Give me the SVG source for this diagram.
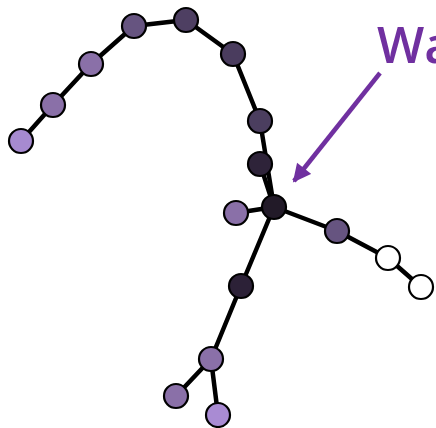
<svg xmlns="http://www.w3.org/2000/svg" width="436" height="428" viewBox="0 0 436 428">
<defs>
<style>
.e{stroke:#000;stroke-width:4.5;stroke-linecap:round;fill:none}
.n{stroke:#000;stroke-width:2.2}
.lbl{font-family:"Open Sans","Liberation Sans",sans-serif;font-size:50px;font-weight:600;fill:#7030a0}
</style>
<marker id="ah" viewBox="0 0 10 10" refX="9" refY="5" markerWidth="4.2" markerHeight="4" markerUnits="strokeWidth" orient="auto">
<path d="M0,0 L10,5 L0,10 z" fill="#7030a0"/>
</marker>
</defs>
<rect width="436" height="428" fill="#fff"/>
<g id="connectors">
<line class="e" x1="21" y1="141" x2="53" y2="105"/>
<line class="e" x1="53" y1="105" x2="91" y2="64"/>
<line class="e" x1="91" y1="64" x2="134" y2="26"/>
<line class="e" x1="134" y1="26" x2="186" y2="20"/>
<line class="e" x1="186" y1="20" x2="233" y2="54"/>
<line class="e" x1="233" y1="54" x2="260" y2="121"/>
<line class="e" x1="260" y1="121" x2="274" y2="207"/>
<line class="e" x1="260" y1="164" x2="274" y2="207"/>
<line class="e" x1="274" y1="207" x2="236" y2="213"/>
<line class="e" x1="274" y1="207" x2="337" y2="231"/>
<line class="e" x1="337" y1="231" x2="388" y2="258"/>
<line class="e" x1="388" y1="258" x2="421" y2="287"/>
<line class="e" x1="274" y1="207" x2="241" y2="286"/>
<line class="e" x1="241" y1="286" x2="211" y2="359"/>
<line class="e" x1="211" y1="359" x2="176" y2="396"/>
<line class="e" x1="211" y1="359" x2="218" y2="415"/>
<line x1="380" y1="73" x2="294" y2="181" stroke="#7030a0" stroke-width="4.5" marker-end="url(#ah)"/>
</g>
<g id="nA"><circle class="n" cx="21" cy="141" r="12" fill="#a68ad0"/></g>
<g id="nB"><circle class="n" cx="53" cy="105" r="12" fill="#8a70a8"/></g>
<g id="nC"><circle class="n" cx="91" cy="64" r="12" fill="#8a70a8"/></g>
<g id="nD"><circle class="n" cx="134" cy="26" r="12" fill="#665480"/></g>
<g id="nE"><circle class="n" cx="186" cy="20" r="12" fill="#4e3f62"/></g>
<g id="nF"><circle class="n" cx="233" cy="54" r="12" fill="#4a3c5e"/></g>
<g id="nG"><circle class="n" cx="260" cy="121" r="12" fill="#4b3e5f"/></g>
<g id="nH"><circle class="n" cx="260" cy="164" r="12" fill="#2e2339"/></g>
<g id="hub"><circle class="n" cx="274" cy="207" r="12" fill="#221a28"/></g>
<g id="nI"><circle class="n" cx="236" cy="213" r="12" fill="#8a70a8"/></g>
<g id="nJ"><circle class="n" cx="337" cy="231" r="12" fill="#665480"/></g>
<g id="nK"><circle class="n" cx="388" cy="258" r="12" fill="#ffffff"/></g>
<g id="nL"><circle class="n" cx="421" cy="287" r="12" fill="#ffffff"/></g>
<g id="nM"><circle class="n" cx="241" cy="286" r="12" fill="#2c2137"/></g>
<g id="nN"><circle class="n" cx="211" cy="359" r="12" fill="#8a70a8"/></g>
<g id="nO"><circle class="n" cx="176" cy="396" r="12" fill="#8a70a8"/></g>
<g id="nP"><circle class="n" cx="218" cy="415" r="12" fill="#a98bd3"/></g>
<g id="label"><text class="lbl" x="377" y="63">Wa</text></g>
</svg>
